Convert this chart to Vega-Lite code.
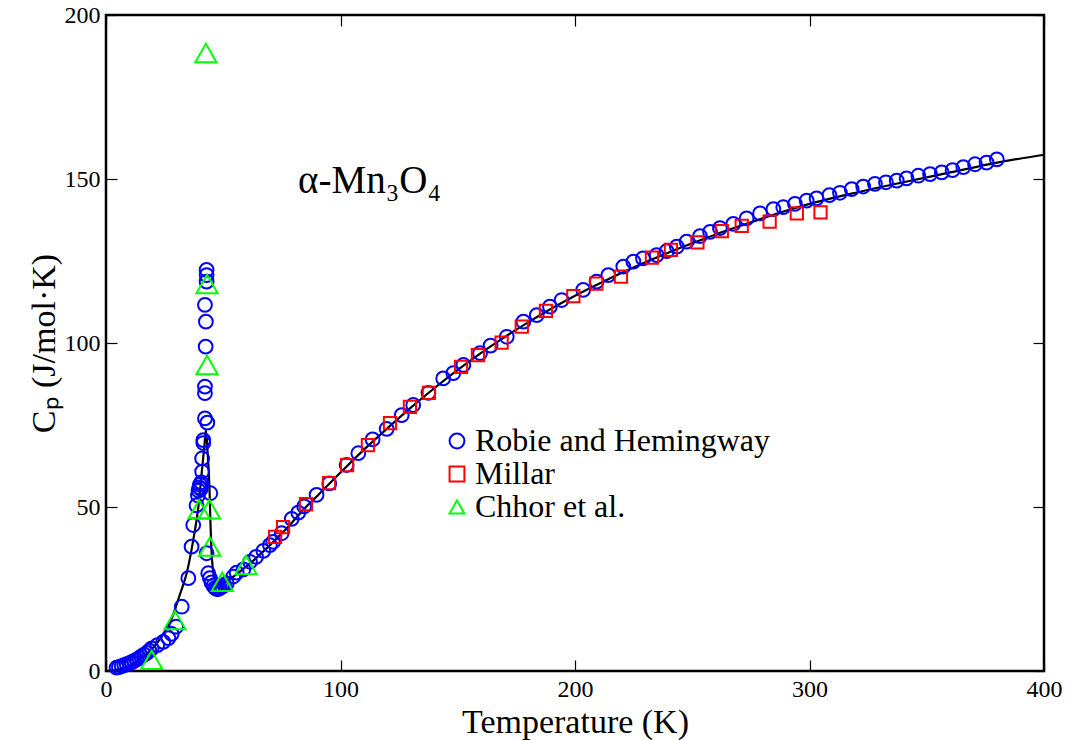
{
  "$schema": "https://vega.github.io/schema/vega-lite/v6.json",
  "width": 938,
  "height": 656,
  "autosize": {"type": "none"},
  "padding": {"left": 106, "top": 15, "right": 26, "bottom": 69},
  "background": "white",
  "config": {
    "view": {"stroke": "black", "strokeWidth": 2.5},
    "font": "Liberation Serif",
    "axis": {
      "domain": false,
      "grid": false,
      "ticks": true,
      "tickColor": "black",
      "tickWidth": 1.2,
      "tickSize": -11,
      "labelFont": "Liberation Serif",
      "labelFontSize": 24,
      "labelColor": "black",
      "labelFlush": false,
      "labelOverlap": false,
      "titleFont": "Liberation Serif",
      "titleFontSize": 34,
      "titleFontWeight": "normal",
      "titleColor": "black"
    }
  },
  "datasets": {
    "fit": [
      {"T": 0, "Cp": 0}, {"T": 4, "Cp": 0.3}, {"T": 8, "Cp": 1.0}, {"T": 12, "Cp": 2.2},
      {"T": 16, "Cp": 4.2}, {"T": 20, "Cp": 7.0}, {"T": 24, "Cp": 10.8}, {"T": 28, "Cp": 16.0},
      {"T": 31.6, "Cp": 23.5}, {"T": 34.4, "Cp": 29.8}, {"T": 37.2, "Cp": 39.9}, {"T": 39.4, "Cp": 50.1},
      {"T": 40.8, "Cp": 60.3}, {"T": 42.0, "Cp": 69}, {"T": 42.6, "Cp": 73.5}, {"T": 43.3, "Cp": 67},
      {"T": 44.1, "Cp": 56.2}, {"T": 44.6, "Cp": 44}, {"T": 45.0, "Cp": 36.5}, {"T": 45.5, "Cp": 31.5},
      {"T": 46.2, "Cp": 28.6}, {"T": 47.2, "Cp": 27.2}, {"T": 48.5, "Cp": 26.7}, {"T": 50.5, "Cp": 27.0},
      {"T": 54.3, "Cp": 28.8}, {"T": 61.4, "Cp": 32.8}, {"T": 68.5, "Cp": 37.4}, {"T": 77.1, "Cp": 43.5},
      {"T": 85, "Cp": 49.8}, {"T": 90, "Cp": 53.3}, {"T": 100, "Cp": 60.5}, {"T": 110, "Cp": 67.5},
      {"T": 120, "Cp": 74}, {"T": 130, "Cp": 80.3}, {"T": 140, "Cp": 86.2}, {"T": 150, "Cp": 91.8},
      {"T": 160, "Cp": 97}, {"T": 170, "Cp": 101.8}, {"T": 180, "Cp": 106.3}, {"T": 190, "Cp": 110.5},
      {"T": 200, "Cp": 114.4}, {"T": 210, "Cp": 118}, {"T": 220, "Cp": 121.4}, {"T": 230, "Cp": 124.6},
      {"T": 240, "Cp": 127.6}, {"T": 250, "Cp": 130.4}, {"T": 260, "Cp": 133.1}, {"T": 270, "Cp": 135.6},
      {"T": 280, "Cp": 138}, {"T": 290, "Cp": 140.3}, {"T": 300, "Cp": 142.4}, {"T": 320, "Cp": 145.9},
      {"T": 340, "Cp": 149.0}, {"T": 360, "Cp": 152.0}, {"T": 380, "Cp": 155.0}, {"T": 400, "Cp": 157.4}
    ],
    "points": [
      {"T": 4.5, "Cp": 1.0, "source": "Robie and Hemingway"},
      {"T": 5.5, "Cp": 1.2, "source": "Robie and Hemingway"},
      {"T": 6.7, "Cp": 1.5, "source": "Robie and Hemingway"},
      {"T": 7.8, "Cp": 1.8, "source": "Robie and Hemingway"},
      {"T": 8.8, "Cp": 2.1, "source": "Robie and Hemingway"},
      {"T": 10.0, "Cp": 2.4, "source": "Robie and Hemingway"},
      {"T": 11.0, "Cp": 2.7, "source": "Robie and Hemingway"},
      {"T": 12.0, "Cp": 3.1, "source": "Robie and Hemingway"},
      {"T": 13.1, "Cp": 3.5, "source": "Robie and Hemingway"},
      {"T": 14.2, "Cp": 4.0, "source": "Robie and Hemingway"},
      {"T": 15.2, "Cp": 4.5, "source": "Robie and Hemingway"},
      {"T": 16.3, "Cp": 5.0, "source": "Robie and Hemingway"},
      {"T": 17.4, "Cp": 5.5, "source": "Robie and Hemingway"},
      {"T": 18.5, "Cp": 6.2, "source": "Robie and Hemingway"},
      {"T": 19.5, "Cp": 6.9, "source": "Robie and Hemingway"},
      {"T": 21.9, "Cp": 7.9, "source": "Robie and Hemingway"},
      {"T": 24.4, "Cp": 8.9, "source": "Robie and Hemingway"},
      {"T": 26.6, "Cp": 10.0, "source": "Robie and Hemingway"},
      {"T": 28.0, "Cp": 11.3, "source": "Robie and Hemingway"},
      {"T": 29.9, "Cp": 13.5, "source": "Robie and Hemingway"},
      {"T": 32.3, "Cp": 19.6, "source": "Robie and Hemingway"},
      {"T": 35.1, "Cp": 28.3, "source": "Robie and Hemingway"},
      {"T": 36.5, "Cp": 37.9, "source": "Robie and Hemingway"},
      {"T": 37.2, "Cp": 44.5, "source": "Robie and Hemingway"},
      {"T": 38.6, "Cp": 50.5, "source": "Robie and Hemingway"},
      {"T": 39.2, "Cp": 53.5, "source": "Robie and Hemingway"},
      {"T": 39.5, "Cp": 55.0, "source": "Robie and Hemingway"},
      {"T": 39.8, "Cp": 56.0, "source": "Robie and Hemingway"},
      {"T": 40.1, "Cp": 56.8, "source": "Robie and Hemingway"},
      {"T": 40.4, "Cp": 55.5, "source": "Robie and Hemingway"},
      {"T": 40.6, "Cp": 57.5, "source": "Robie and Hemingway"},
      {"T": 41.0, "Cp": 60.8, "source": "Robie and Hemingway"},
      {"T": 41.0, "Cp": 64.8, "source": "Robie and Hemingway"},
      {"T": 41.5, "Cp": 69.5, "source": "Robie and Hemingway"},
      {"T": 41.5, "Cp": 70.4, "source": "Robie and Hemingway"},
      {"T": 42.2, "Cp": 77.0, "source": "Robie and Hemingway"},
      {"T": 43.2, "Cp": 75.7, "source": "Robie and Hemingway"},
      {"T": 42.2, "Cp": 84.7, "source": "Robie and Hemingway"},
      {"T": 42.2, "Cp": 86.7, "source": "Robie and Hemingway"},
      {"T": 42.5, "Cp": 98.9, "source": "Robie and Hemingway"},
      {"T": 42.6, "Cp": 106.5, "source": "Robie and Hemingway"},
      {"T": 42.2, "Cp": 111.6, "source": "Robie and Hemingway"},
      {"T": 42.9, "Cp": 118.7, "source": "Robie and Hemingway"},
      {"T": 42.9, "Cp": 120.7, "source": "Robie and Hemingway"},
      {"T": 42.9, "Cp": 122.3, "source": "Robie and Hemingway"},
      {"T": 44.5, "Cp": 54.2, "source": "Robie and Hemingway"},
      {"T": 42.9, "Cp": 35.9, "source": "Robie and Hemingway"},
      {"T": 43.6, "Cp": 29.8, "source": "Robie and Hemingway"},
      {"T": 44.3, "Cp": 28.3, "source": "Robie and Hemingway"},
      {"T": 45.0, "Cp": 27.0, "source": "Robie and Hemingway"},
      {"T": 45.8, "Cp": 26.0, "source": "Robie and Hemingway"},
      {"T": 46.5, "Cp": 25.3, "source": "Robie and Hemingway"},
      {"T": 47.2, "Cp": 25.0, "source": "Robie and Hemingway"},
      {"T": 48.0, "Cp": 25.0, "source": "Robie and Hemingway"},
      {"T": 48.6, "Cp": 25.3, "source": "Robie and Hemingway"},
      {"T": 49.5, "Cp": 25.7, "source": "Robie and Hemingway"},
      {"T": 50.5, "Cp": 26.2, "source": "Robie and Hemingway"},
      {"T": 51.5, "Cp": 26.7, "source": "Robie and Hemingway"},
      {"T": 54.3, "Cp": 28.8, "source": "Robie and Hemingway"},
      {"T": 55.7, "Cp": 30.0, "source": "Robie and Hemingway"},
      {"T": 58.6, "Cp": 31.0, "source": "Robie and Hemingway"},
      {"T": 61.4, "Cp": 33.3, "source": "Robie and Hemingway"},
      {"T": 64.0, "Cp": 34.8, "source": "Robie and Hemingway"},
      {"T": 67.1, "Cp": 36.6, "source": "Robie and Hemingway"},
      {"T": 69.9, "Cp": 38.4, "source": "Robie and Hemingway"},
      {"T": 71.3, "Cp": 39.4, "source": "Robie and Hemingway"},
      {"T": 74.9, "Cp": 42.0, "source": "Robie and Hemingway"},
      {"T": 79.2, "Cp": 46.4, "source": "Robie and Hemingway"},
      {"T": 82.0, "Cp": 48.3, "source": "Robie and Hemingway"},
      {"T": 84.5, "Cp": 50.2, "source": "Robie and Hemingway"},
      {"T": 89.8, "Cp": 53.7, "source": "Robie and Hemingway"},
      {"T": 95.2, "Cp": 57.2, "source": "Robie and Hemingway"},
      {"T": 102.6, "Cp": 62.8, "source": "Robie and Hemingway"},
      {"T": 107.6, "Cp": 66.4, "source": "Robie and Hemingway"},
      {"T": 113.7, "Cp": 70.6, "source": "Robie and Hemingway"},
      {"T": 119.7, "Cp": 73.8, "source": "Robie and Hemingway"},
      {"T": 126.1, "Cp": 78.0, "source": "Robie and Hemingway"},
      {"T": 131.0, "Cp": 81.1, "source": "Robie and Hemingway"},
      {"T": 137.5, "Cp": 84.8, "source": "Robie and Hemingway"},
      {"T": 143.8, "Cp": 89.2, "source": "Robie and Hemingway"},
      {"T": 148.1, "Cp": 90.8, "source": "Robie and Hemingway"},
      {"T": 152.4, "Cp": 93.3, "source": "Robie and Hemingway"},
      {"T": 159.5, "Cp": 96.9, "source": "Robie and Hemingway"},
      {"T": 164.0, "Cp": 99.2, "source": "Robie and Hemingway"},
      {"T": 170.9, "Cp": 101.9, "source": "Robie and Hemingway"},
      {"T": 178.0, "Cp": 106.5, "source": "Robie and Hemingway"},
      {"T": 183.7, "Cp": 108.5, "source": "Robie and Hemingway"},
      {"T": 189.3, "Cp": 111.1, "source": "Robie and Hemingway"},
      {"T": 194.3, "Cp": 113.1, "source": "Robie and Hemingway"},
      {"T": 203.5, "Cp": 116.2, "source": "Robie and Hemingway"},
      {"T": 209.2, "Cp": 118.7, "source": "Robie and Hemingway"},
      {"T": 214.2, "Cp": 120.7, "source": "Robie and Hemingway"},
      {"T": 220.6, "Cp": 123.3, "source": "Robie and Hemingway"},
      {"T": 224.9, "Cp": 124.8, "source": "Robie and Hemingway"},
      {"T": 229.0, "Cp": 125.8, "source": "Robie and Hemingway"},
      {"T": 234.8, "Cp": 126.8, "source": "Robie and Hemingway"},
      {"T": 239.1, "Cp": 128.0, "source": "Robie and Hemingway"},
      {"T": 243.4, "Cp": 129.4, "source": "Robie and Hemingway"},
      {"T": 247.6, "Cp": 130.9, "source": "Robie and Hemingway"},
      {"T": 253.3, "Cp": 132.6, "source": "Robie and Hemingway"},
      {"T": 257.6, "Cp": 133.9, "source": "Robie and Hemingway"},
      {"T": 261.8, "Cp": 135.0, "source": "Robie and Hemingway"},
      {"T": 267.5, "Cp": 136.3, "source": "Robie and Hemingway"},
      {"T": 273.2, "Cp": 138.0, "source": "Robie and Hemingway"},
      {"T": 278.9, "Cp": 139.5, "source": "Robie and Hemingway"},
      {"T": 284.6, "Cp": 140.8, "source": "Robie and Hemingway"},
      {"T": 288.8, "Cp": 141.4, "source": "Robie and Hemingway"},
      {"T": 293.8, "Cp": 142.4, "source": "Robie and Hemingway"},
      {"T": 298.8, "Cp": 143.4, "source": "Robie and Hemingway"},
      {"T": 303.0, "Cp": 144.1, "source": "Robie and Hemingway"},
      {"T": 308.5, "Cp": 145.1, "source": "Robie and Hemingway"},
      {"T": 313.0, "Cp": 145.8, "source": "Robie and Hemingway"},
      {"T": 318.0, "Cp": 146.9, "source": "Robie and Hemingway"},
      {"T": 322.9, "Cp": 147.7, "source": "Robie and Hemingway"},
      {"T": 327.9, "Cp": 148.5, "source": "Robie and Hemingway"},
      {"T": 332.6, "Cp": 149.0, "source": "Robie and Hemingway"},
      {"T": 337.2, "Cp": 149.5, "source": "Robie and Hemingway"},
      {"T": 341.4, "Cp": 150.2, "source": "Robie and Hemingway"},
      {"T": 346.4, "Cp": 151.0, "source": "Robie and Hemingway"},
      {"T": 351.4, "Cp": 151.5, "source": "Robie and Hemingway"},
      {"T": 356.4, "Cp": 152.0, "source": "Robie and Hemingway"},
      {"T": 361.0, "Cp": 152.7, "source": "Robie and Hemingway"},
      {"T": 365.6, "Cp": 153.6, "source": "Robie and Hemingway"},
      {"T": 370.6, "Cp": 154.5, "source": "Robie and Hemingway"},
      {"T": 375.5, "Cp": 155.0, "source": "Robie and Hemingway"},
      {"T": 379.9, "Cp": 156.0, "source": "Robie and Hemingway"},
      {"T": 72.1, "Cp": 40.9, "source": "Millar"},
      {"T": 75.5, "Cp": 43.9, "source": "Millar"},
      {"T": 85.3, "Cp": 50.9, "source": "Millar"},
      {"T": 95.1, "Cp": 57.3, "source": "Millar"},
      {"T": 102.8, "Cp": 62.8, "source": "Millar"},
      {"T": 111.7, "Cp": 68.9, "source": "Millar"},
      {"T": 121.1, "Cp": 75.6, "source": "Millar"},
      {"T": 129.6, "Cp": 80.5, "source": "Millar"},
      {"T": 137.7, "Cp": 84.8, "source": "Millar"},
      {"T": 151.4, "Cp": 92.7, "source": "Millar"},
      {"T": 158.6, "Cp": 96.3, "source": "Millar"},
      {"T": 168.7, "Cp": 100.1, "source": "Millar"},
      {"T": 177.3, "Cp": 105.0, "source": "Millar"},
      {"T": 187.6, "Cp": 109.8, "source": "Millar"},
      {"T": 199.3, "Cp": 114.3, "source": "Millar"},
      {"T": 209.1, "Cp": 118.1, "source": "Millar"},
      {"T": 219.6, "Cp": 120.2, "source": "Millar"},
      {"T": 232.8, "Cp": 126.0, "source": "Millar"},
      {"T": 240.9, "Cp": 128.4, "source": "Millar"},
      {"T": 252.2, "Cp": 130.7, "source": "Millar"},
      {"T": 262.6, "Cp": 134.1, "source": "Millar"},
      {"T": 271.1, "Cp": 135.7, "source": "Millar"},
      {"T": 283.0, "Cp": 137.0, "source": "Millar"},
      {"T": 294.6, "Cp": 139.5, "source": "Millar"},
      {"T": 304.7, "Cp": 139.8, "source": "Millar"},
      {"T": 19.5, "Cp": 3.4, "source": "Chhor et al."},
      {"T": 29.4, "Cp": 15.5, "source": "Chhor et al."},
      {"T": 39.7, "Cp": 49.3, "source": "Chhor et al."},
      {"T": 44.1, "Cp": 49.3, "source": "Chhor et al."},
      {"T": 44.3, "Cp": 37.9, "source": "Chhor et al."},
      {"T": 42.6, "Cp": 188.4, "source": "Chhor et al."},
      {"T": 43.1, "Cp": 118.0, "source": "Chhor et al."},
      {"T": 43.1, "Cp": 93.3, "source": "Chhor et al."},
      {"T": 49.6, "Cp": 27.2, "source": "Chhor et al."},
      {"T": 59.7, "Cp": 32.3, "source": "Chhor et al."}
    ],
    "label": [
      {"T": 81.9, "Cp": 145.7, "text": "α-Mn₃O₄"}
    ]
  },
  "layer": [
    {
      "data": {"name": "fit"},
      "mark": {"type": "line", "color": "black", "strokeWidth": 2.2, "interpolate": "monotone"},
      "encoding": {
        "x": {"field": "T", "type": "quantitative", "scale": {"domain": [0, 400], "nice": false},
          "axis": {"orient": "bottom", "values": [0, 100, 200, 300, 400], "title": "Temperature (K)", "labelPadding": 17, "titleY": 61, "titleBaseline": "alphabetic"}},
        "y": {"field": "Cp", "type": "quantitative", "scale": {"domain": [0, 200], "nice": false},
          "axis": {"orient": "left", "values": [0, 50, 100, 150, 200], "title": "Cₚ (J/mol·K)", "labelPadding": 17, "titleX": -52, "titleY": 328, "titleAngle": -90, "titleBaseline": "alphabetic", "titleAlign": "center"}}
      }
    },
    {
      "data": {"name": "points"},
      "transform": [{"filter": "datum.source === 'Robie and Hemingway'"}],
      "mark": {"type": "point", "filled": false, "strokeWidth": 2, "opacity": 1, "size": 190},
      "encoding": {
        "x": {"field": "T", "type": "quantitative", "axis": null},
        "y": {"field": "Cp", "type": "quantitative", "axis": null},
        "color": {"field": "source", "type": "nominal",
          "scale": {"domain": ["Robie and Hemingway", "Millar", "Chhor et al."], "range": ["#0000ff", "#ff0000", "#00ff00"]},
          "legend": {"orient": "none", "legendX": 335, "legendY": 410, "title": null, "labelFont": "Liberation Serif", "labelFontSize": 32, "labelColor": "black", "labelOffset": 2, "labelLimit": 0, "symbolStrokeWidth": 2, "symbolSize": 220, "rowPadding": 1, "padding": 0}},
        "shape": {"field": "source", "type": "nominal",
          "scale": {"domain": ["Robie and Hemingway", "Millar", "Chhor et al."], "range": ["circle", "square", "triangle-up"]}}
      }
    },
    {
      "data": {"name": "points"},
      "transform": [{"filter": "datum.source === 'Millar'"}],
      "mark": {"type": "point", "filled": false, "strokeWidth": 2, "opacity": 1, "size": 150},
      "encoding": {
        "x": {"field": "T", "type": "quantitative", "axis": null},
        "y": {"field": "Cp", "type": "quantitative", "axis": null},
        "color": {"field": "source", "type": "nominal"},
        "shape": {"field": "source", "type": "nominal"}
      }
    },
    {
      "data": {"name": "points"},
      "transform": [{"filter": "datum.source === 'Chhor et al.'"}],
      "mark": {"type": "point", "filled": false, "strokeWidth": 2, "opacity": 1, "size": 450},
      "encoding": {
        "x": {"field": "T", "type": "quantitative", "axis": null},
        "y": {"field": "Cp", "type": "quantitative", "axis": null},
        "color": {"field": "source", "type": "nominal"},
        "shape": {"field": "source", "type": "nominal"}
      }
    },
    {
      "data": {"name": "label"},
      "mark": {"type": "text", "align": "left", "baseline": "alphabetic", "fontSize": 39, "font": "Liberation Serif", "color": "black"},
      "encoding": {
        "x": {"field": "T", "type": "quantitative", "axis": null},
        "y": {"field": "Cp", "type": "quantitative", "axis": null},
        "text": {"field": "text", "type": "nominal"}
      }
    },
    {
      "data": {"name": "fit"},
      "mark": {"type": "line", "opacity": 0},
      "encoding": {
        "x": {"field": "T", "type": "quantitative", "axis": {"orient": "top", "values": [0, 100, 200, 300, 400], "labels": false, "title": null}},
        "y": {"field": "Cp", "type": "quantitative", "axis": {"orient": "right", "values": [0, 50, 100, 150, 200], "labels": false, "title": null}}
      }
    }
  ],
  "resolve": {"axis": {"x": "independent", "y": "independent"}}
}
